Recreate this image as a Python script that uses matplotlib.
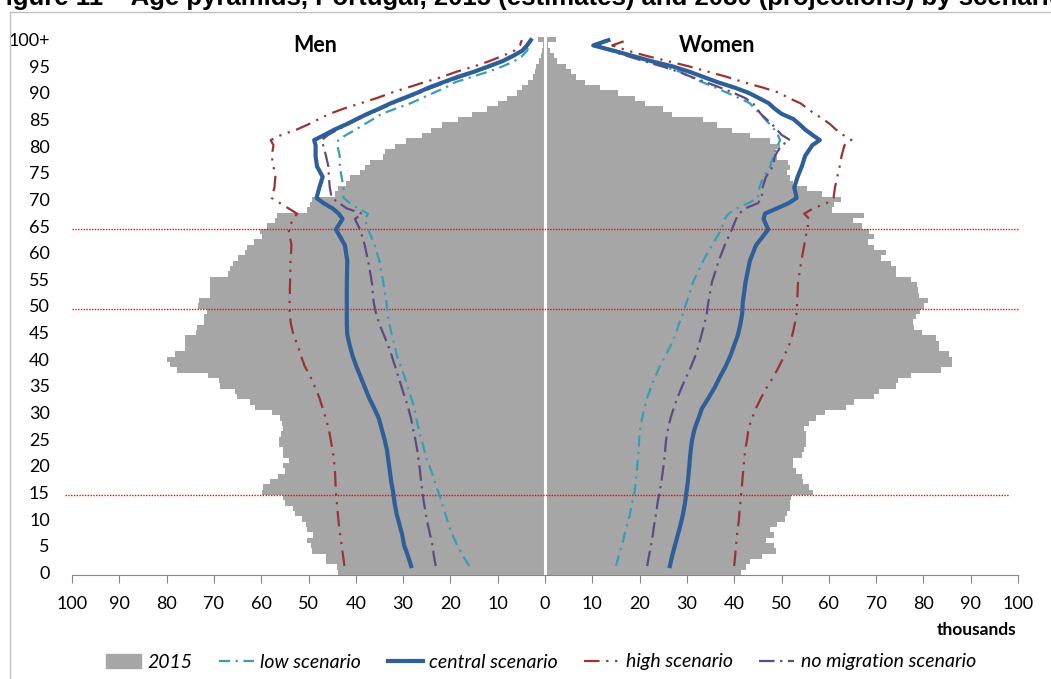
import numpy as np
import matplotlib
matplotlib.use("Agg")
from matplotlib import pyplot as plt
from matplotlib.lines import Line2D
from matplotlib.patches import Patch

plt.rcParams['font.family'] = ['Lato', 'DejaVu Sans']

# 2015 estimates, thousands, ages 0..100+
ages = list(range(101))
men_2015 = [43.7, 44.0, 46.2, 46.4, 49.2, 49.4, 50.4, 49.0, 50.4, 50.5,
            51.4, 52.9, 53.2, 55.0, 55.3, 59.9, 59.6, 58.1, 56.4, 55.0,
            55.3, 54.1, 55.3, 55.3, 56.2, 56.2, 55.9, 55.3, 55.7, 56.0,
            57.8, 61.3, 62.3, 65.2, 65.5, 68.7, 69.0, 71.2, 77.8, 79.3,
            80.0, 78.2, 76.2, 76.2, 76.1, 73.8, 73.6, 72.1, 72.1, 71.4,
            73.3, 73.1, 70.9, 70.8, 70.8, 70.8, 67.1, 66.6, 65.9, 65.0,
            63.4, 63.1, 61.5, 59.9, 60.2, 58.8, 57.1, 56.7, 50.4, 49.7,
            49.3, 44.4, 43.7, 42.0, 41.2, 39.1, 38.1, 37.0, 34.2, 33.8,
            31.7, 29.3, 26.1, 24.0, 21.8, 18.3, 15.5, 12.3, 9.9, 8.1,
            6.0, 4.9, 3.5, 2.5, 2.1, 1.8, 1.2, 0.9, 0.6, 0.4, 1.4]
women_2015 = [41.5, 42.5, 43.3, 45.8, 48.9, 48.5, 46.8, 48.5, 47.5, 49.0,
              50.7, 51.1, 51.8, 51.8, 52.1, 56.7, 55.9, 54.6, 54.4, 53.0,
              52.5, 52.4, 54.4, 54.8, 55.2, 55.2, 55.2, 54.8, 55.8, 57.3,
              59.1, 63.6, 65.4, 69.6, 70.7, 74.3, 74.6, 77.4, 83.7, 86.0,
              86.0, 85.5, 83.2, 83.4, 82.7, 79.8, 78.1, 77.7, 78.4, 79.3,
              80.2, 80.9, 79.1, 78.8, 78.6, 77.4, 74.3, 74.3, 73.1, 71.0,
              72.1, 69.6, 68.2, 69.6, 68.4, 67.0, 65.2, 67.5, 60.6, 61.0,
              62.5, 58.5, 55.3, 52.5, 51.8, 51.1, 51.8, 51.4, 49.0, 48.6,
              49.7, 47.6, 43.3, 39.5, 36.3, 33.5, 26.8, 25.0, 21.1, 19.0,
              15.5, 11.6, 8.5, 6.5, 5.5, 4.5, 2.5, 1.8, 1.1, 0.7, 2.3]

# 2080 projections by scenario (ages, thousands)
line_ages = [0, 2, 4, 6, 8, 10, 12, 14, 16, 18, 20, 22, 24, 26, 28, 30, 32, 34,
             36, 38, 40, 42, 44, 46, 48, 50, 54, 58, 61, 64, 66, 67, 68, 69, 70,
             72, 74, 76, 78, 80, 81, 82, 83, 84, 85, 86, 87, 88, 89, 90, 91, 92,
             93, 94, 95, 96, 97, 98, 99, 100]

men_low = [16.0, 17.4, 18.6, 19.6, 20.4, 21.1, 21.8, 22.5, 23.3, 24.0, 24.9, 25.5,
           26.1, 26.7, 27.2, 27.6, 28.3, 29.0, 29.7, 30.5, 31.3, 31.8, 32.4, 32.9,
           33.3, 33.5, 34.2, 35.0, 36.0, 37.4, 38.1, 37.4, 39.5, 41.2, 42.6,
           42.6, 43.0, 43.4, 43.4, 43.9, 43.7, 42.0, 40.0, 38.2, 36.3, 34.5, 31.5,
           28.4, 26.0, 23.5, 21.0, 19.0, 15.5, 12.0, 9.0, 6.5, 4.8, 3.8, 3.3, 3.0]
men_central = [28.3, 29.0, 29.8, 30.2, 30.8, 31.4, 31.8, 32.1, 32.5, 32.8, 33.1, 33.4,
               33.9, 34.5, 35.1, 36.1, 37.2, 38.1, 39.0, 39.9, 40.7, 41.3, 41.8, 41.9,
               41.9, 41.9, 41.9, 41.8, 42.3, 44.2, 42.8, 43.6, 44.9, 46.8, 48.3,
               47.7, 47.0, 48.2, 48.5, 48.5, 48.8, 46.6, 44.5, 42.0, 39.8, 37.5, 35.0,
               32.6, 29.8, 27.0, 24.5, 21.5, 18.5, 15.0, 12.0, 9.0, 6.8, 4.8, 3.8, 3.0]
men_high = [42.4, 42.7, 43.0, 43.3, 43.6, 43.8, 44.0, 44.2, 44.3, 44.4, 44.6, 44.9,
            45.3, 45.7, 46.3, 47.0, 47.7, 48.6, 49.6, 50.8, 51.6, 52.3, 53.2, 53.7,
            54.0, 54.0, 53.9, 53.8, 53.6, 54.2, 53.3, 52.4, 54.2, 56.0, 57.8,
            57.2, 57.0, 57.4, 57.8, 57.4, 58.0, 55.7, 52.5, 50.0, 47.8, 45.5, 42.5,
            39.0, 35.5, 32.5, 29.0, 25.5, 21.8, 18.7, 15.0, 11.8, 9.0, 6.5, 5.3, 4.9]
men_nomig = [23.1, 23.5, 23.8, 24.3, 24.8, 25.2, 25.6, 25.9, 26.2, 26.4, 26.7, 27.0,
             27.4, 27.9, 28.3, 28.9, 29.6, 30.3, 31.0, 31.7, 32.4, 33.2, 34.1, 35.0,
             35.7, 36.2, 36.6, 37.4, 38.1, 39.1, 40.2, 38.6, 41.9, 43.5, 45.1,
             45.5, 45.7, 45.8, 46.3, 46.9, 47.2, 45.8, 43.8, 41.6, 39.4, 37.0, 34.6,
             32.0, 29.3, 26.5, 23.8, 20.8, 17.8, 14.5, 11.5, 8.7, 6.5, 4.6, 3.6, 3.0]

women_low = [15.0, 15.6, 16.3, 16.8, 17.4, 18.0, 18.4, 18.9, 19.2, 19.4, 19.6, 19.8,
             19.9, 20.1, 20.5, 21.0, 21.6, 22.4, 23.3, 24.3, 25.5, 26.6, 27.6, 28.3,
             29.2, 29.9, 31.3, 33.4, 35.3, 37.3, 38.0, 38.8, 40.5, 43.0, 45.0,
             45.3, 46.2, 47.6, 48.3, 49.2, 49.7, 49.2, 48.5, 47.5, 46.5, 45.5, 44.3,
             43.3, 41.0, 38.5, 36.0, 33.3, 30.8, 28.5, 25.0, 21.5, 18.0, 14.5, 11.0, 13.0]
women_central = [26.4, 26.9, 27.5, 28.1, 28.7, 29.2, 29.6, 29.9, 30.2, 30.4, 30.6, 30.8,
                 31.1, 31.6, 32.4, 33.2, 34.6, 35.9, 37.0, 38.2, 39.2, 40.0, 40.8, 41.3,
                 41.7, 41.8, 42.4, 43.3, 44.6, 47.2, 46.2, 46.5, 49.0, 51.5, 53.2,
                 52.7, 53.4, 54.3, 55.0, 56.5, 58.1, 56.5, 55.0, 53.8, 52.5, 50.0, 48.5,
                 47.3, 45.2, 43.0, 40.0, 36.5, 33.5, 30.5, 27.0, 22.5, 18.5, 14.5, 10.2, 13.4]
women_high = [40.0, 40.2, 40.4, 40.6, 40.9, 41.1, 41.3, 41.5, 41.7, 41.9, 42.1, 42.3,
              42.7, 43.0, 43.7, 44.6, 45.7, 46.9, 48.3, 49.5, 50.6, 51.6, 52.3, 52.8,
              53.2, 53.3, 53.5, 54.2, 54.8, 55.4, 55.9, 54.8, 56.7, 59.5, 61.0,
              61.3, 61.8, 62.3, 62.7, 63.3, 64.8, 63.0, 61.5, 60.3, 58.8, 57.0, 55.5,
              54.0, 51.5, 49.5, 46.0, 42.0, 38.5, 34.5, 30.5, 26.0, 21.5, 17.5, 14.2, 17.3]
women_nomig = [21.6, 22.0, 22.4, 22.8, 23.1, 23.5, 23.8, 24.2, 24.6, 24.9, 25.2, 25.4,
               25.6, 26.0, 26.5, 27.2, 28.0, 28.9, 29.9, 30.9, 31.8, 32.5, 33.1, 33.7,
               34.2, 34.5, 35.3, 36.7, 38.0, 39.5, 40.4, 41.0, 42.3, 45.0, 45.8,
               46.0, 46.7, 48.2, 48.6, 50.0, 51.8, 50.0, 49.0, 48.0, 46.8, 45.6, 44.8,
               44.0, 42.3, 39.8, 37.0, 34.0, 31.0, 28.2, 24.8, 21.0, 17.3, 13.8, 10.5, 13.0]

ytick_vals = list(range(0, 101, 5))
ytick_labels = [str(v) for v in ytick_vals[:-1]] + ['100+']
xtick_vals = list(range(-100, 101, 10))
xtick_labels = [str(abs(v)) for v in xtick_vals]
guide_ages = [14.5, 49.5, 64.5]

W, H = 1051, 679
fig = plt.figure(figsize=(W / 100, H / 100), dpi=100)
ax = fig.add_axes([72 / W, 1 - 575 / H, (1018 - 72) / W, (575 - 37) / H])

bar_color = '#A6A6A6'
ax.barh(ages, [-v for v in men_2015], height=1.0, color=bar_color, linewidth=0, zorder=1)
ax.barh(ages, women_2015, height=1.0, color=bar_color, linewidth=0, zorder=1)
ax.axvline(0, color='white', lw=2.2, zorder=2)

for i, g in enumerate(guide_ages):
    x0, x1 = (-101.5, 98) if i == 0 else (-100, 100)
    ax.plot([x0, x1], [g, g], color='#FF0000', lw=1, ls=(0, (1, 1)), zorder=3, clip_on=False)

ax.set_xlim(-100, 100)
ax.set_ylim(-0.5, 100.5)
ax.set_xticks(xtick_vals)
ax.set_xticklabels(xtick_labels, fontsize=13)
ax.set_yticks(ytick_vals)
ax.set_yticklabels(ytick_labels, fontsize=13)
ax.tick_params(axis='y', length=0, pad=16)
ax.tick_params(axis='x', length=6, color='#868686', pad=9, direction='out')
for s in ['top', 'right', 'left']:
    ax.spines[s].set_visible(False)
ax.spines['bottom'].set_color('#868686')

# scenario lines on their own vertical scale, like the source chart
ax2 = ax.twinx()
ax2.set_ylim(-1.7, 100.6)
ax2.axis('off')

c_low, c_cen, c_high, c_nom = '#3A9DB8', '#2F5F98', '#9B3333', '#5E4A85'
ls_low = (0, (5, 2.5, 1, 2.5))
ls_high = (0, (7, 3, 1, 3, 1, 3))
ls_nom = (0, (7, 2.5, 1, 2.5))

def draw(vals_m, vals_w, color, ls, lw, z):
    ax2.plot([-v for v in vals_m], line_ages, color=color, ls=ls, lw=lw, zorder=z)
    ax2.plot(vals_w, line_ages, color=color, ls=ls, lw=lw, zorder=z)

draw(men_low, women_low, c_low, ls_low, 1.6, 4)
draw(men_nomig, women_nomig, c_nom, ls_nom, 1.6, 5)
draw(men_high, women_high, c_high, ls_high, 1.6, 4)
draw(men_central, women_central, c_cen, '-', 3.0, 6)

fig.text(315 / W, 1 - 46 / H, 'Men', ha='center', va='center', fontsize=15.5, fontweight='bold')
fig.text(717 / W, 1 - 46 / H, 'Women', ha='center', va='center', fontsize=15.5, fontweight='bold')
fig.text(1016 / W, 1 - 630 / H, 'thousands', ha='right', va='center', fontsize=12.5, fontweight='bold')

fig.text(-10 / W, 1 - 5 / H,
         'Figure 11 \u2013 Age pyramids, Portugal, 2015 (estimates) and 2080 (projections) by scenario',
         ha='left', va='baseline', fontsize=18.5, fontweight='bold', family='Liberation Sans')

fig.add_artist(Line2D([10 / W, 10 / W], [0, 1 - 12 / H], color='#BFBFBF', lw=1))
fig.add_artist(Line2D([10 / W, 1], [1 - 12 / H, 1 - 12 / H], color='#BFBFBF', lw=1))

handles = [Patch(color=bar_color, label='2015'),
           Line2D([], [], color=c_low, ls=ls_low, lw=1.6, label='low scenario'),
           Line2D([], [], color=c_cen, lw=3, label='central scenario'),
           Line2D([], [], color=c_high, ls=ls_high, lw=1.6, label='high scenario'),
           Line2D([], [], color=c_nom, ls=ls_nom, lw=1.6, label='no migration scenario')]
fig.legend(handles=handles, loc='center', bbox_to_anchor=(541 / W, 1 - 662 / H), ncol=5,
           frameon=False, prop={'style': 'italic', 'size': 14}, handlelength=1.8,
           handleheight=0.75, handletextpad=0.35, columnspacing=1.35)

fig.savefig('out.png', dpi=100)
